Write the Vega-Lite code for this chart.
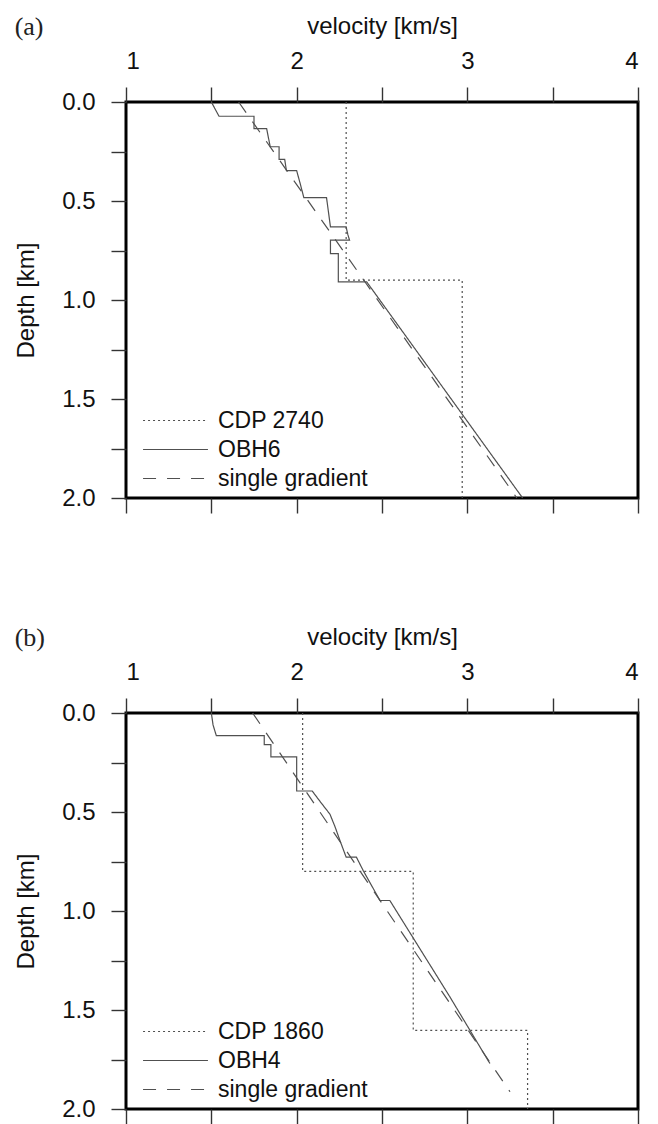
{
  "$schema": "https://vega.github.io/schema/vega-lite/v6.json",
  "background": "white",
  "padding": {"left": 13, "top": 12, "right": 5, "bottom": 0},
  "spacing": 107,
  "config": {
    "view": {"stroke": "black", "strokeWidth": 3},
    "font": "Liberation Sans",
    "axis": {
      "domain": false, "grid": false,
      "tickColor": "#333", "tickWidth": 1.4,
      "labelFont": "Liberation Sans", "labelFontSize": 24, "labelColor": "#111",
      "titleFont": "Liberation Sans", "titleFontSize": 24, "titleFontWeight": "normal", "titleColor": "#111"
    },
    "legend": {
      "orient": "none", "legendX": 38, "legendY": 307,
      "title": null, "padding": 0,
      "symbolType": "M-6,0H6", "symbolSize": 117, "symbolStrokeWidth": 1.2,
      "symbolStrokeColor": "#505050", "symbolFillColor": "transparent",
      "labelFont": "Liberation Sans", "labelFontSize": 23, "labelColor": "#111",
      "labelOffset": 31, "rowPadding": 5
    },
    "title": {"font": "Liberation Serif", "fontSize": 26, "fontWeight": "normal", "color": "#222", "anchor": "start", "frame": "bounds", "offset": -26}
  },
  "datasets": {
    "a": [
      {"s": "CDP 2740", "v": 2.29, "d": 0},
      {"s": "CDP 2740", "v": 2.29, "d": 0.9},
      {"s": "CDP 2740", "v": 2.97, "d": 0.9},
      {"s": "CDP 2740", "v": 2.97, "d": 2.0},
      {"s": "OBH6", "v": 1.50, "d": 0},
      {"s": "OBH6", "v": 1.525, "d": 0.04},
      {"s": "OBH6", "v": 1.545, "d": 0.072},
      {"s": "OBH6", "v": 1.75, "d": 0.072},
      {"s": "OBH6", "v": 1.75, "d": 0.134},
      {"s": "OBH6", "v": 1.824, "d": 0.134},
      {"s": "OBH6", "v": 1.845, "d": 0.226},
      {"s": "OBH6", "v": 1.897, "d": 0.226},
      {"s": "OBH6", "v": 1.897, "d": 0.29},
      {"s": "OBH6", "v": 1.93, "d": 0.29},
      {"s": "OBH6", "v": 1.94, "d": 0.347},
      {"s": "OBH6", "v": 2.0, "d": 0.347},
      {"s": "OBH6", "v": 2.02, "d": 0.41},
      {"s": "OBH6", "v": 2.042, "d": 0.483},
      {"s": "OBH6", "v": 2.175, "d": 0.483},
      {"s": "OBH6", "v": 2.198, "d": 0.631},
      {"s": "OBH6", "v": 2.29, "d": 0.631},
      {"s": "OBH6", "v": 2.30, "d": 0.67},
      {"s": "OBH6", "v": 2.31, "d": 0.698},
      {"s": "OBH6", "v": 2.198, "d": 0.698},
      {"s": "OBH6", "v": 2.198, "d": 0.766},
      {"s": "OBH6", "v": 2.244, "d": 0.766},
      {"s": "OBH6", "v": 2.244, "d": 0.908},
      {"s": "OBH6", "v": 2.41, "d": 0.908},
      {"s": "OBH6", "v": 3.324, "d": 2.0},
      {"s": "single gradient", "v": 1.66, "d": 0},
      {"s": "single gradient", "v": 3.29, "d": 2.0}
    ],
    "b": [
      {"s": "CDP 1860", "v": 2.035, "d": 0},
      {"s": "CDP 1860", "v": 2.035, "d": 0.8},
      {"s": "CDP 1860", "v": 2.683, "d": 0.8},
      {"s": "CDP 1860", "v": 2.683, "d": 1.603},
      {"s": "CDP 1860", "v": 3.353, "d": 1.603},
      {"s": "CDP 1860", "v": 3.353, "d": 2.0},
      {"s": "OBH4", "v": 1.50, "d": 0},
      {"s": "OBH4", "v": 1.51, "d": 0.06},
      {"s": "OBH4", "v": 1.529, "d": 0.114},
      {"s": "OBH4", "v": 1.81, "d": 0.114},
      {"s": "OBH4", "v": 1.81, "d": 0.16},
      {"s": "OBH4", "v": 1.849, "d": 0.16},
      {"s": "OBH4", "v": 1.849, "d": 0.222},
      {"s": "OBH4", "v": 2.0, "d": 0.222},
      {"s": "OBH4", "v": 2.0, "d": 0.394},
      {"s": "OBH4", "v": 2.091, "d": 0.394},
      {"s": "OBH4", "v": 2.14, "d": 0.45},
      {"s": "OBH4", "v": 2.195, "d": 0.511},
      {"s": "OBH4", "v": 2.225, "d": 0.575},
      {"s": "OBH4", "v": 2.254, "d": 0.645},
      {"s": "OBH4", "v": 2.29, "d": 0.728},
      {"s": "OBH4", "v": 2.35, "d": 0.728},
      {"s": "OBH4", "v": 2.39, "d": 0.796},
      {"s": "OBH4", "v": 2.488, "d": 0.947},
      {"s": "OBH4", "v": 2.546, "d": 0.947},
      {"s": "OBH4", "v": 2.898, "d": 1.434},
      {"s": "OBH4", "v": 3.132, "d": 1.77},
      {"s": "single gradient", "v": 1.742, "d": 0},
      {"s": "single gradient", "v": 3.25, "d": 1.913}
    ]
  },
  "resolve": {"scale": {"strokeDash": "independent"}, "legend": {"strokeDash": "independent"}},
  "vconcat": [
    {
      "width": 512, "height": 396,
      "title": {"text": "(a)"},
      "data": {"name": "a"},
      "layer": [
        {
          "mark": {"type": "line", "color": "#505050", "strokeWidth": 1.2},
          "encoding": {
            "x": {"field": "v", "type": "quantitative", "scale": {"domain": [1, 4], "nice": false, "zero": false},
              "axis": {"orient": "top", "title": "velocity [km/s]", "values": [1, 1.5, 2, 2.5, 3, 3.5, 4],
                "labelExpr": "datum.value % 1 === 0 ? format(datum.value, 'd') : ''", "tickSize": 15, "labelPadding": 14, "titlePadding": 11,
                "encode": {"ticks": {"y2": {"value": {"expr": "datum.value % 1 === 0 ? -15 : -8"}}}}}},
            "y": {"field": "d", "type": "quantitative", "scale": {"domain": [0, 2], "reverse": true, "nice": false, "zero": false},
              "axis": {"orient": "left", "title": "Depth [km]", "values": [0, 0.25, 0.5, 0.75, 1, 1.25, 1.5, 1.75, 2],
                "labelExpr": "datum.value % 0.5 === 0 ? format(datum.value, '.1f') : ''", "tickSize": 15, "labelPadding": 16, "titlePadding": 23,
                "encode": {"ticks": {"x2": {"value": {"expr": "datum.value % 0.5 === 0 ? -15 : -8"}}}}}},
            "strokeDash": {"field": "s", "type": "nominal",
              "scale": {"domain": ["CDP 2740", "OBH6", "single gradient"], "range": [[2, 3], [1, 0], [13, 11]]}},
            "order": {"value": null}
          }
        },
        {
          "mark": {"type": "point", "opacity": 0},
          "encoding": {
            "x": {"field": "v", "type": "quantitative",
              "axis": {"orient": "bottom", "title": null, "labels": false, "values": [1, 1.5, 2, 2.5, 3, 3.5, 4], "tickSize": 15,
                "encode": {"ticks": {"y2": {"value": {"expr": "datum.value % 1 === 0 ? 15 : 8"}}}}}}
          }
        }
      ]
    },
    {
      "width": 512, "height": 396,
      "title": {"text": "(b)"},
      "data": {"name": "b"},
      "layer": [
        {
          "mark": {"type": "line", "color": "#505050", "strokeWidth": 1.2},
          "encoding": {
            "x": {"field": "v", "type": "quantitative", "scale": {"domain": [1, 4], "nice": false, "zero": false},
              "axis": {"orient": "top", "title": "velocity [km/s]", "values": [1, 1.5, 2, 2.5, 3, 3.5, 4],
                "labelExpr": "datum.value % 1 === 0 ? format(datum.value, 'd') : ''", "tickSize": 15, "labelPadding": 14, "titlePadding": 11,
                "encode": {"ticks": {"y2": {"value": {"expr": "datum.value % 1 === 0 ? -15 : -8"}}}}}},
            "y": {"field": "d", "type": "quantitative", "scale": {"domain": [0, 2], "reverse": true, "nice": false, "zero": false},
              "axis": {"orient": "left", "title": "Depth [km]", "values": [0, 0.25, 0.5, 0.75, 1, 1.25, 1.5, 1.75, 2],
                "labelExpr": "datum.value % 0.5 === 0 ? format(datum.value, '.1f') : ''", "tickSize": 15, "labelPadding": 16, "titlePadding": 23,
                "encode": {"ticks": {"x2": {"value": {"expr": "datum.value % 0.5 === 0 ? -15 : -8"}}}}}},
            "strokeDash": {"field": "s", "type": "nominal",
              "scale": {"domain": ["CDP 1860", "OBH4", "single gradient"], "range": [[2, 3], [1, 0], [13, 11]]}},
            "order": {"value": null}
          }
        },
        {
          "mark": {"type": "point", "opacity": 0},
          "encoding": {
            "x": {"field": "v", "type": "quantitative",
              "axis": {"orient": "bottom", "title": null, "labels": false, "values": [1, 1.5, 2, 2.5, 3, 3.5, 4], "tickSize": 15,
                "encode": {"ticks": {"y2": {"value": {"expr": "datum.value % 1 === 0 ? 15 : 8"}}}}}}
          }
        }
      ]
    }
  ]
}
